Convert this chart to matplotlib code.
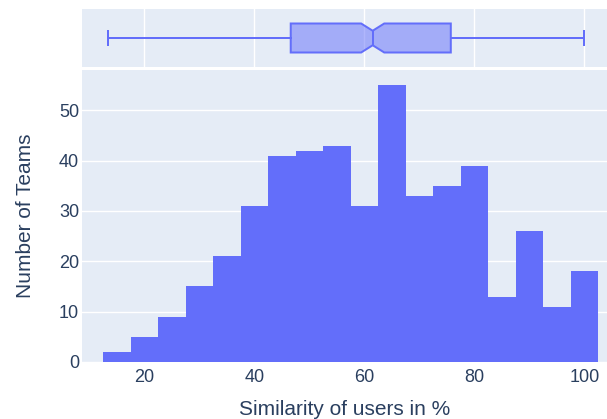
import numpy as np
import matplotlib.pyplot as plt

# histogram bins (similarity in %) and team counts
bin_edges = [12.5, 17.5, 22.5, 27.5, 32.5, 37.5, 42.5, 47.5, 52.5, 57.5,
             62.5, 67.5, 72.5, 77.5, 82.5, 87.5, 92.5, 97.5, 102.5]
team_counts = [2, 5, 9, 15, 21, 31, 41, 42, 43, 31, 55, 33, 35, 39, 13, 26, 11, 18]

# marginal box plot summary
box_stats = {
    "whislo": 13.3,
    "q1": 46.6,
    "med": 61.5,
    "q3": 75.7,
    "whishi": 100.0,
    "cilo": 59.4,
    "cihi": 63.6,
}

x_ticks = [20, 40, 60, 80, 100]
y_ticks = [0, 10, 20, 30, 40, 50]

BAR_COLOR = "#636efa"
BG = "#e5ecf6"
TEXT = "#2a3f5f"

plt.rcParams["font.family"] = ["Liberation Sans", "DejaVu Sans"]

W, H = 607, 419
fig = plt.figure(figsize=(W / 100, H / 100), dpi=100)


def px_axes(left, top, right, bottom):
    return fig.add_axes([left / W, 1 - bottom / H, (right - left) / W, (bottom - top) / H])


ax = px_axes(82, 70, 607, 362)
ax_box = px_axes(82, 9, 607, 67)

xlim = (8.65, 104.1)

# main histogram
ax.set_facecolor(BG)
lefts = bin_edges[:-1]
widths = np.diff(bin_edges)
ax.bar(lefts, team_counts, width=widths, align="edge", color=BAR_COLOR,
       linewidth=0, zorder=2)
ax.set_xlim(*xlim)
ax.set_ylim(0, 58)
ax.set_xticks(x_ticks)
ax.set_yticks(y_ticks)
ax.grid(axis="y", color="white", linewidth=1, zorder=0)
ax.set_axisbelow(True)
for s in ax.spines.values():
    s.set_visible(False)
ax.tick_params(length=0, labelsize=13, labelcolor=TEXT)
ax.tick_params(axis="x", pad=5)
ax.tick_params(axis="y", pad=2)
ax.set_xlabel("Similarity of users in %", fontsize=15, color=TEXT, labelpad=10)
ax.set_ylabel("Number of Teams", fontsize=15, color=TEXT, labelpad=17)

# marginal box plot
ax_box.set_facecolor(BG)
ax_box.bxp([box_stats], orientation="horizontal", positions=[0], widths=0.5,
           shownotches=True, showfliers=False, patch_artist=True,
           boxprops=dict(facecolor=(99 / 255, 110 / 255, 250 / 255, 0.5),
                         edgecolor=BAR_COLOR, linewidth=1.44),
           whiskerprops=dict(color=BAR_COLOR, linewidth=1.44),
           capprops=dict(color=BAR_COLOR, linewidth=1.44),
           medianprops=dict(color=BAR_COLOR, linewidth=1.44))
ax_box.set_xlim(*xlim)
ax_box.set_ylim(-0.5, 0.5)
ax_box.set_xticks(x_ticks)
ax_box.set_yticks([])
ax_box.grid(axis="x", color="white", linewidth=1)
ax_box.set_axisbelow(True)
ax_box.tick_params(length=0, labelbottom=False)
for s in ax_box.spines.values():
    s.set_visible(False)

fig.savefig("out.png", dpi=100)
